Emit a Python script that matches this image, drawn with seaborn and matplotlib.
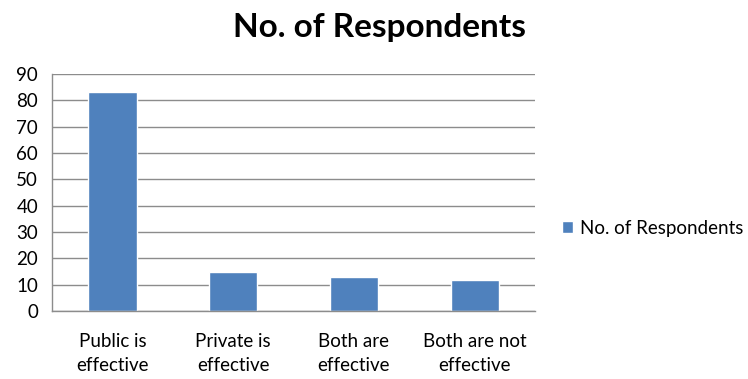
import matplotlib
matplotlib.use("Agg")
import matplotlib.pyplot as plt
import seaborn as sns
import pandas as pd

# data
categories = ["Public is\neffective", "Private is\neffective", "Both are\neffective", "Both are not\neffective"]
respondents = [83, 15, 13, 12]
series_name = "No. of Respondents"

df = pd.DataFrame({"Category": categories, "Count": respondents, "Series": series_name})

sns.set_style("white")
plt.rcParams['font.family'] = ['Lato', 'DejaVu Sans']
plt.rcParams['text.color'] = 'black'
plt.rcParams['xtick.color'] = 'black'
plt.rcParams['ytick.color'] = 'black'

fig = plt.figure(figsize=(7.48, 3.79), dpi=100)
ax = fig.add_axes([0.0695, 0.179, 0.646, 0.626])

sns.barplot(data=df, x="Category", y="Count", hue="Series", palette=["#4F81BD"],
            width=0.4, dodge=False, ax=ax, saturation=1)

ax.set_ylim(0, 90)
ax.set_yticks(range(0, 91, 10))
ax.set_xlim(-0.5, 3.5)
ax.yaxis.grid(True, color="#8c8c8c", linewidth=1)
ax.set_axisbelow(True)
for s in ["top", "right"]:
    ax.spines[s].set_visible(False)
for s in ["left", "bottom"]:
    ax.spines[s].set_color("#8c8c8c")
    ax.spines[s].set_linewidth(1)

# category separators as outward minor ticks
ax.set_xticks([-0.5, 0.5, 1.5, 2.5, 3.5], minor=True)
ax.tick_params(axis="x", which="minor", length=6, color="#8c8c8c", width=1)
ax.tick_params(axis="x", which="major", length=0, pad=16, labelsize=13.5, labelcolor="black")
ax.tick_params(axis="y", length=5, color="#8c8c8c", width=1, labelsize=13.5, pad=5, labelcolor="black")
for lbl in ax.get_xticklabels():
    lbl.set_linespacing(1.45)
ax.set_xlabel("")
ax.set_ylabel("")

fig.suptitle("No. of Respondents", x=0.508, y=0.965, fontsize=24, fontweight="bold", color="black")

sns.move_legend(ax, "center left", bbox_to_anchor=(1.02, 0.35), frameon=False, title=None,
                fontsize=13.5, handlelength=0.6, handleheight=0.6, handletextpad=0.35)

fig.savefig("out.png", dpi=100)
